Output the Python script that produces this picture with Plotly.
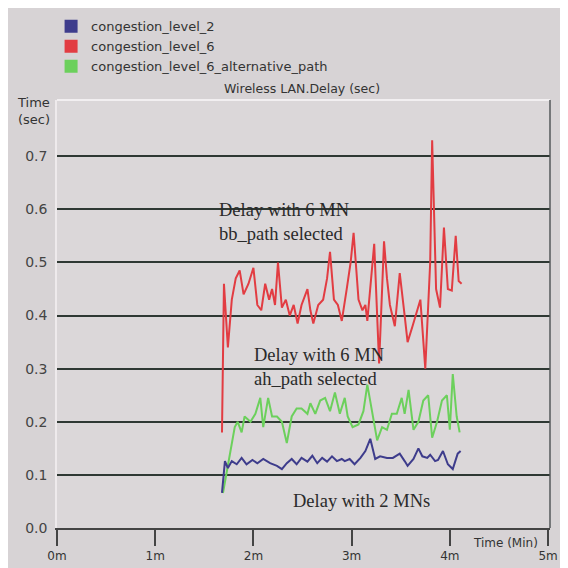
import plotly.graph_objects as go

# ---------------- data ----------------
series_names = ["congestion_level_2", "congestion_level_6", "congestion_level_6_alternative_path"]
series_colors = ["#3e3c8c", "#e23c42", "#6cd05c"]

red_t = [1.68, 1.70, 1.74, 1.78, 1.82, 1.86, 1.90, 1.95, 2.00, 2.04, 2.08, 2.12, 2.16, 2.19,
         2.22, 2.25, 2.29, 2.33, 2.37, 2.41, 2.45, 2.49, 2.55, 2.58, 2.61, 2.66, 2.71, 2.75,
         2.78, 2.82, 2.86, 2.90, 2.95, 2.99, 3.02, 3.07, 3.11, 3.14, 3.16, 3.20, 3.23, 3.28,
         3.33, 3.36, 3.39, 3.44, 3.49, 3.54, 3.57, 3.62, 3.65, 3.70, 3.75, 3.80, 3.82, 3.86,
         3.90, 3.94, 3.98, 4.02, 4.06, 4.09, 4.12]
red_v = [0.18, 0.46, 0.34, 0.43, 0.47, 0.485, 0.44, 0.46, 0.49, 0.42, 0.41, 0.46, 0.43, 0.45,
         0.42, 0.50, 0.415, 0.43, 0.40, 0.42, 0.385, 0.42, 0.45, 0.41, 0.385, 0.42, 0.43, 0.47,
         0.52, 0.43, 0.42, 0.39, 0.45, 0.50, 0.556, 0.43, 0.41, 0.42, 0.39, 0.47, 0.535, 0.31,
         0.54, 0.47, 0.42, 0.38, 0.48, 0.40, 0.35, 0.38, 0.40, 0.43, 0.30, 0.50, 0.73, 0.45,
         0.415, 0.566, 0.45, 0.447, 0.55, 0.465, 0.46]

green_t = [1.69, 1.76, 1.81, 1.84, 1.88, 1.91, 1.97, 2.02, 2.07, 2.10, 2.15, 2.19, 2.24, 2.29,
           2.34, 2.39, 2.44, 2.49, 2.55, 2.58, 2.63, 2.68, 2.73, 2.78, 2.83, 2.88, 2.93, 2.96,
           3.01, 3.07, 3.12, 3.16, 3.21, 3.26, 3.31, 3.36, 3.41, 3.46, 3.51, 3.54, 3.58, 3.63,
           3.68, 3.73, 3.78, 3.82, 3.87, 3.92, 3.97, 4.00, 4.03, 4.07, 4.10]
green_v = [0.066, 0.14, 0.19, 0.20, 0.18, 0.21, 0.20, 0.215, 0.245, 0.19, 0.245, 0.21, 0.21, 0.20,
           0.16, 0.21, 0.225, 0.225, 0.215, 0.235, 0.215, 0.24, 0.245, 0.22, 0.255, 0.215, 0.245, 0.21,
           0.19, 0.195, 0.22, 0.27, 0.22, 0.165, 0.19, 0.185, 0.215, 0.215, 0.245, 0.215, 0.26, 0.185,
           0.20, 0.24, 0.25, 0.17, 0.20, 0.24, 0.25, 0.185, 0.29, 0.21, 0.18]

blue_t = [1.68, 1.71, 1.74, 1.78, 1.83, 1.88, 1.93, 1.99, 2.04, 2.10, 2.17, 2.24, 2.29, 2.34,
          2.39, 2.44, 2.49, 2.55, 2.60, 2.65, 2.70, 2.75, 2.80, 2.85, 2.90, 2.93, 2.98, 3.03,
          3.09, 3.14, 3.19, 3.24, 3.29, 3.36, 3.42, 3.49, 3.54, 3.57, 3.63, 3.68, 3.72, 3.77,
          3.80, 3.85, 3.88, 3.93, 3.98, 4.03, 4.08, 4.11]
blue_v = [0.066, 0.126, 0.113, 0.126, 0.12, 0.132, 0.12, 0.128, 0.122, 0.13, 0.122, 0.117, 0.111, 0.122,
          0.13, 0.12, 0.132, 0.125, 0.136, 0.122, 0.132, 0.125, 0.135, 0.126, 0.13, 0.126, 0.13, 0.12,
          0.132, 0.145, 0.168, 0.13, 0.135, 0.132, 0.132, 0.14, 0.126, 0.117, 0.13, 0.15, 0.135, 0.132,
          0.138, 0.126, 0.128, 0.145, 0.12, 0.111, 0.14, 0.145]

x_tick_vals = [0, 1, 2, 3, 4, 5]
x_tick_text = ["0m", "1m", "2m", "3m", "4m", "5m"]
y_tick_vals = [0.0, 0.1, 0.2, 0.3, 0.4, 0.5, 0.6, 0.7]
y_tick_text = ["0.0", "0.1", "0.2", "0.3", "0.4", "0.5", "0.6", "0.7"]

notes = [
    ("Delay with 6 MN<br>bb_path selected", 1.63, 0.577),
    ("Delay with 6 MN<br>ah_path selected", 1.99, 0.304),
    ("Delay with 2 MNs", 2.38, 0.051),
]

# ---------------- figure ----------------
BG = "#d7d3d5"
PLOT_BG = "#dbd7d9"
GRID = "#2e3833"

fig = go.Figure()

data = [(blue_t, blue_v), (red_t, red_v), (green_t, green_v)]
for i in [1, 2, 0]:
    t, v = data[i]
    fig.add_trace(go.Scatter(x=t, y=v, mode="lines", showlegend=False,
                             line=dict(color=series_colors[i], width=2)))

# legend entries as squares
for name, col in zip(series_names, series_colors):
    fig.add_trace(go.Scatter(x=[None], y=[None], mode="markers", name=name,
                             marker=dict(symbol="square", size=13, color=col)))

# plot border lines
fig.add_shape(type="line", xref="paper", yref="paper", x0=0, x1=1, y0=1, y1=1,
              line=dict(color="#f2eff1", width=2))
fig.add_shape(type="line", xref="paper", yref="paper", x0=1, x1=1, y0=0, y1=1,
              line=dict(color="#55585a", width=1.5))

for text, x, y in notes:
    fig.add_annotation(x=x, y=y, xref="x", yref="y", text=text, showarrow=False,
                       xanchor="left", yanchor="middle", align="left",
                       font=dict(family="Liberation Serif", size=18.5, color="#2a2a2a"))

fig.add_annotation(text="Wireless LAN.Delay (sec)", xref="paper", yref="paper",
                   x=0.497, y=1.028, xanchor="center", yanchor="middle", showarrow=False,
                   font=dict(family="DejaVu Sans", size=12.5, color="#333333"))
fig.add_annotation(text="Time<br>(sec)", xref="paper", yref="paper",
                   x=-0.01, y=0.974, xanchor="right", yanchor="middle", showarrow=False, align="left",
                   font=dict(family="DejaVu Sans", size=13, color="#333333"))
fig.add_annotation(text="Time (Min)", xref="paper", yref="paper",
                   x=0.91, y=-0.035, xanchor="center", yanchor="middle", showarrow=False,
                   font=dict(family="DejaVu Sans", size=12, color="#333333"))

fig.update_layout(
    width=560, height=560,
    margin=dict(l=49, r=18, t=92, b=40, autoexpand=False),
    paper_bgcolor=BG,
    plot_bgcolor=PLOT_BG,
    font=dict(family="DejaVu Sans", size=12, color="#333333"),
    legend=dict(x=-0.012, y=1.207, xanchor="left", yanchor="top", bgcolor="rgba(0,0,0,0)",
                font=dict(family="DejaVu Sans", size=13, color="#333333"),
                itemwidth=30, tracegroupgap=0),
    xaxis=dict(range=[0, 5.02], tickvals=x_tick_vals, ticktext=x_tick_text,
               showgrid=False, zeroline=False, showline=True, linecolor="#444444", linewidth=1.5,
               ticks="outside", ticklen=16, tickwidth=1.5, tickcolor="#444444",
               tickfont=dict(family="DejaVu Sans", size=12, color="#333333")),
    yaxis=dict(range=[0, 0.806], tickvals=y_tick_vals, ticktext=y_tick_text,
               showgrid=True, gridcolor=GRID, gridwidth=1.5, zeroline=False,
               showline=True, linecolor="#eeeaec", linewidth=1.5,
               ticks="outside", ticklen=5, tickcolor=BG,
               tickfont=dict(family="DejaVu Sans", size=14, color="#444444")),
)

fig.write_html("out.html")
